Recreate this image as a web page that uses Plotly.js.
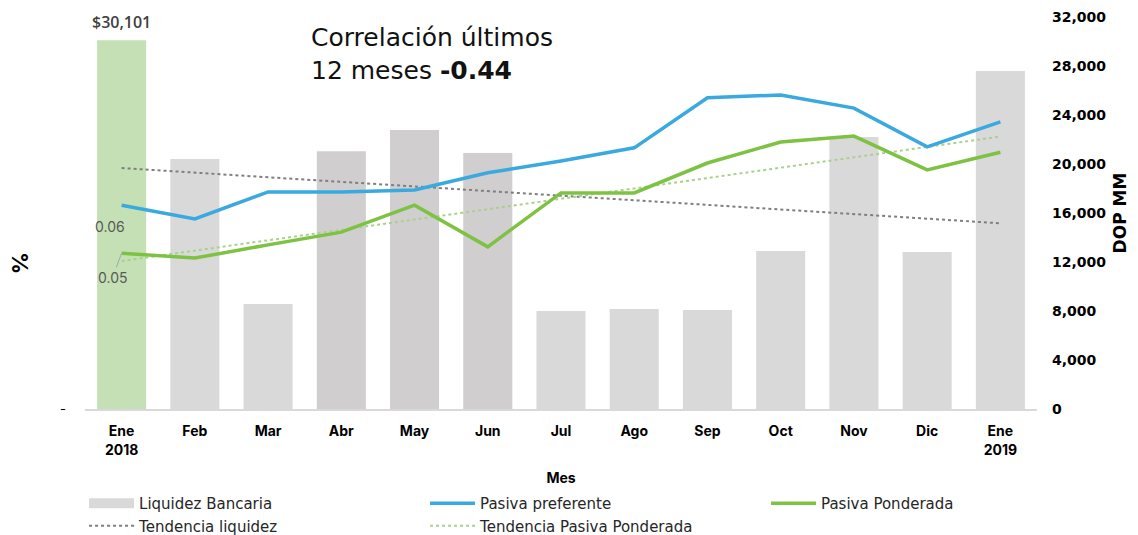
<!DOCTYPE html>
<html>
<head>
<meta charset="utf-8">
<script src="https://cdn.plot.ly/plotly-3.0.1.min.js"></script>
<style>html,body{margin:0;padding:0;background:#fff}#chart{width:1138px;height:535px}</style>
</head>
<body>
<div id="chart"></div>
<script>
const months = ["Ene<br>2018","Feb","Mar","Abr","May","Jun","Jul","Ago","Sep","Oct","Nov","Dic","Ene<br>2019"];
const liquidez = [30101,20400,8570,21050,22780,20900,8000,8160,8080,12900,22200,12820,27600];
const pasivaPreferente = [0.0616,0.0588,0.0643,0.0643,0.0647,0.0682,0.0706,0.0733,0.0835,0.0841,0.0814,0.0735,0.0786];
const pasivaPonderada = [0.0518,0.0508,0.0535,0.0561,0.0616,0.0531,0.0641,0.0641,0.0702,0.0745,0.0757,0.0688,0.0724];
const trendLiqX = ["Ene<br>2018","Ene<br>2019"];
const trendLiqY = [19670,15160];
const trendPondX = ["Ene<br>2018","Ene<br>2019"];
const trendPondY = [0.0502,0.0756];
const correlacion = -0.44;
const rightTicks = [0,4000,8000,12000,16000,20000,24000,28000,32000];

const barColors = months.map((m,i)=> i===0 ? "#c5e0b4" : (i>=3 && i<=5 ? "#d0cece" : "#d9d9d9"));
const FONT = "Inter, 'Open Sans', sans-serif";
const WIDE = "'DejaVu Sans', Verdana, sans-serif";

const traces = [
  {type:"bar", x:months, y:liquidez, yaxis:"y", marker:{color:barColors}, showlegend:false, hoverinfo:"x+y"},
  {type:"scatter", mode:"lines", x:[months[0]], y:[null], yaxis:"y", name:"Liquidez Bancaria",
   line:{color:"#d9d9d9", width:10}, legendrank:1, hoverinfo:"skip"},
  {type:"scatter", mode:"lines", x:trendLiqX, y:trendLiqY, yaxis:"y", name:"Tendencia liquidez",
   line:{color:"#7f7f7f", width:2, dash:"dot"}, legendrank:4},
  {type:"scatter", mode:"lines", x:trendPondX, y:trendPondY, yaxis:"y2", name:"Tendencia Pasiva Ponderada",
   line:{color:"#a9d18e", width:2, dash:"dot"}, legendrank:5},
  {type:"scatter", mode:"lines", x:months, y:pasivaPreferente, yaxis:"y2", name:"Pasiva preferente",
   line:{color:"#3aa9e0", width:3.5}, legendrank:2},
  {type:"scatter", mode:"lines", x:months, y:pasivaPonderada, yaxis:"y2", name:"Pasiva Ponderada",
   line:{color:"#7dc243", width:3.5}, legendrank:3}
];

const layout = {
  width:1138, height:535,
  margin:{l:85, r:101, t:17, b:126, autoexpand:false},
  paper_bgcolor:"#fff", plot_bgcolor:"#fff",
  font:{family:FONT, color:"#000"},
  barmode:"overlay", bargap:0.33,
  showlegend:true,
  xaxis:{
    type:"category", showgrid:false, zeroline:false,
    showline:true, linecolor:"#d9d9d9", linewidth:1.5,
    ticks:"", ticklabelstandoff:9,
    tickfont:{family:FONT, size:14, weight:700, color:"#000"},
    title:{text:"Mes", font:{family:FONT, size:14, weight:700, color:"#000"}, standoff:16}
  },
  yaxis:{
    side:"right", range:[0,32000], tickvals:rightTicks,
    tickformat:",", showgrid:false, zeroline:false, showline:false, ticks:"", ticklabelstandoff:14,
    tickfont:{family:WIDE, size:14, weight:700, color:"#000"},
    title:{text:"DOP MM", font:{family:WIDE, size:17, weight:700, color:"#000"}, standoff:8}
  },
  yaxis2:{
    side:"left", overlaying:"y", range:[0.02,0.10], tickvals:[0.02], ticktext:["-"],
    showgrid:false, zeroline:false, showline:false, ticks:"", ticklabelstandoff:18,
    tickfont:{family:FONT, size:13, color:"#000"}
  },
  legend:{
    orientation:"h", xref:"paper", yref:"paper", x:-0.001, xanchor:"left", y:-0.199, yanchor:"top",
    entrywidth:281, entrywidthmode:"pixels", traceorder:"normal",
    font:{family:WIDE, size:15, color:"#262626"}, tracegroupgap:0, itemwidth:45
  },
  annotations:[
    {x:months[0], y:liquidez[0], xref:"x", yref:"y", yshift:18, showarrow:false,
     text:"$"+liquidez[0].toLocaleString("en-US"), font:{family:"'Open Sans', sans-serif", size:16, weight:600, color:"#404040"}},
    {x:0.2353, y:0.99, xref:"paper", yref:"paper", xanchor:"left", yanchor:"top", align:"left", showarrow:false,
     text:"Correlación últimos<br>12 meses <b>"+correlacion.toFixed(2)+"</b>", font:{family:WIDE, size:25, color:"#111"}},
    {x:months[0], y:pasivaPreferente[0], xref:"x", yref:"y2", xshift:-12, yshift:-21, showarrow:false,
     text:pasivaPreferente[0].toFixed(2), font:{family:FONT, size:14, color:"#595959"}},
    {x:months[0], y:pasivaPonderada[0], xref:"x", yref:"y2", showarrow:true, arrowhead:0, arrowwidth:1,
     arrowcolor:"#a6a6a6", ax:-9, ay:24, standoff:0,
     text:pasivaPonderada[0].toFixed(2), font:{family:FONT, size:14, color:"#595959"}},
    {x:-0.0683, y:0.372, xref:"paper", yref:"paper", xanchor:"center", yanchor:"middle", showarrow:false, textangle:-90,
     text:"%", font:{family:FONT, size:22, weight:700, color:"#000"}}
  ]
};

Plotly.newPlot("chart", traces, layout, {displayModeBar:false, staticPlot:true});
</script>
</body>
</html>
